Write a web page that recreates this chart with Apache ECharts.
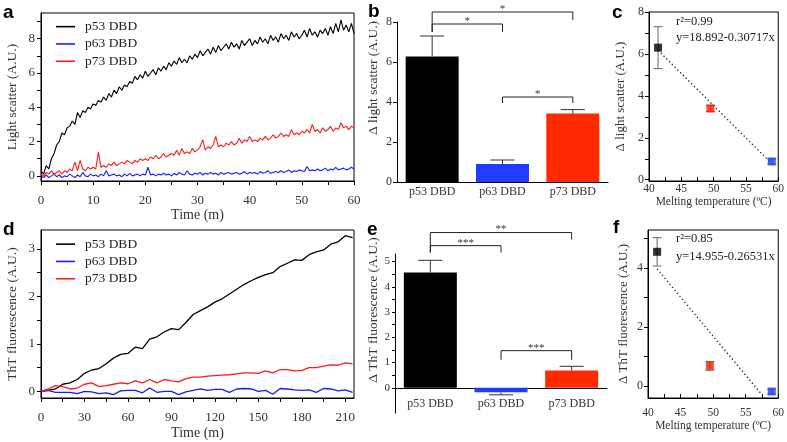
<!DOCTYPE html>
<html>
<head>
<meta charset="utf-8">
<script src="https://cdn.jsdelivr.net/npm/echarts@6/dist/echarts.min.js"></script>
<style>
html,body{margin:0;padding:0;background:#fff;}
#chart{width:787px;height:442px;}
</style>
</head>
<body>
<div id="chart"></div>
<script>
// ---------- DATA ----------
// Panel a: light scatter time courses, sampled every 0.5 min (0..60 min)
const timeStepA = 0.5;
const p53A = [
0.3,0.1,0.6,0.4,1.0,1.3,1.8,2.0,2.5,2.4,
2.8,2.9,3.2,3.0,3.7,3.4,3.8,3.7,4.0,3.9,
4.2,4.1,4.4,4.3,4.6,4.4,4.8,4.6,5.0,4.8,
5.2,5.0,5.3,5.2,5.5,5.4,5.8,5.6,5.9,5.7,
6.1,5.8,6.0,6.2,5.9,6.3,6.1,6.4,6.2,6.6,
6.4,6.7,6.5,6.9,6.6,6.8,6.6,7.0,6.8,7.1,
6.9,7.3,7.0,7.2,7.4,7.1,7.5,7.2,7.6,7.3,
7.5,7.7,7.4,7.8,7.5,7.7,7.4,7.9,7.6,7.8,
8.0,7.6,7.9,7.7,8.1,7.8,8.0,7.7,8.2,7.9,
8.1,7.8,8.3,8.0,8.2,7.9,8.4,8.1,8.3,8.0,
8.2,8.5,8.1,8.6,8.2,8.4,8.1,8.5,8.3,8.6,
8.2,8.7,8.3,8.9,8.4,9.1,8.5,8.8,8.4,8.9,
8.3];
const p63A = [
0.0,-0.1,0.05,-0.1,0.0,0.1,-0.05,0.05,-0.1,0.0,
-0.05,0.1,0.0,-0.1,0.05,-0.05,0.2,0.0,-0.05,0.1,
0.0,0.05,-0.05,0.1,0.0,0.3,0.0,0.05,0.1,0.0,
0.05,-0.05,0.1,0.0,0.15,0.0,0.05,0.1,0.0,0.1,
0.05,0.5,0.05,0.1,0.0,0.1,0.05,0.15,0.05,0.1,
0.0,0.15,0.05,0.2,0.1,0.05,0.3,0.1,0.05,0.15,
0.1,0.2,0.05,0.15,0.1,0.2,0.1,0.15,0.05,0.2,
0.1,0.15,0.2,0.1,0.15,0.2,0.1,0.15,0.25,0.1,
0.2,0.15,0.2,0.1,0.25,0.15,0.2,0.3,0.15,0.2,
0.25,0.2,0.3,0.2,0.25,0.35,0.2,0.3,0.25,0.35,
0.3,0.25,0.55,0.3,0.35,0.3,0.4,0.3,0.35,0.45,
0.3,0.4,0.35,0.5,0.35,0.4,0.45,0.35,0.4,0.5,
0.4];
const p73A = [
0.1,0.0,0.2,0.1,0.3,0.1,0.2,0.3,0.1,0.3,
0.2,0.4,0.3,0.8,0.3,0.9,0.4,0.3,0.5,0.4,
0.5,0.4,1.4,0.5,0.6,0.5,0.7,0.6,0.8,0.6,
0.7,0.8,0.7,0.9,0.8,0.7,0.9,0.8,1.0,0.9,
1.0,0.9,1.1,1.0,1.2,1.0,1.1,1.3,1.1,1.2,
1.3,1.2,1.5,1.2,1.6,1.3,1.4,1.3,1.6,1.4,
1.5,1.7,2.1,1.5,1.7,1.6,1.8,2.3,1.7,1.8,
1.7,1.9,1.8,2.0,1.8,1.9,2.2,1.9,2.1,2.0,
2.3,2.0,2.1,2.0,2.2,2.1,2.3,2.1,2.2,2.4,
2.2,2.3,2.5,2.3,2.4,2.3,2.7,2.4,2.5,2.4,
2.6,2.5,2.7,2.5,3.0,2.6,2.7,2.5,2.8,2.6,
2.7,2.9,2.6,2.8,2.7,3.1,2.8,2.9,2.7,2.9,
2.8];

// Panel d: ThT fluorescence time courses, sampled every 5 min (0..215 min)
const timeStepD = 5;
const p53D = [0,0.02,0.05,0.15,0.18,0.25,0.38,0.45,0.48,0.58,0.7,0.78,0.8,0.93,0.9,1.1,1.15,1.25,1.32,1.3,1.45,1.62,1.7,1.78,1.88,1.95,2.05,2.15,2.25,2.33,2.4,2.46,2.5,2.63,2.7,2.77,2.76,2.88,2.94,2.98,3.1,3.15,3.28,3.24];
const p63D = [0,0.02,-0.02,-0.02,-0.02,-0.05,0,-0.01,-0.05,-0.03,-0.07,0.01,0.02,0.02,-0.03,0.07,-0.02,0,0,-0.07,-0.01,0.02,0.05,0.02,0.04,0.04,-0.02,0.05,0.06,0.05,0,0.02,-0.06,0.06,0.05,0.03,0.02,0.03,-0.02,0.06,0.05,0.01,0.03,-0.02];
const p73D = [0,0.05,0.12,0.1,0.05,0.07,0.15,0.18,0.1,0.12,0.15,0.18,0.16,0.22,0.18,0.25,0.18,0.25,0.22,0.2,0.27,0.3,0.3,0.32,0.33,0.34,0.35,0.37,0.39,0.39,0.38,0.43,0.39,0.46,0.46,0.43,0.44,0.5,0.5,0.53,0.56,0.55,0.6,0.58];

// Panels b / e: bar means and errors
const seriesNames = ['p53 DBD','p63 DBD','p73 DBD'];
const lightMean = [6.28, 0.9, 3.42];
const lightErr  = [1.02, 0.2, 0.2];
const thtMean   = [4.57, -0.18, 0.68];
const thtErr    = [0.48, 0.1, 0.17];

// Panels c / f: melting temperature vs. change
const meltTemp = [41.4, 59.0, 49.5];
const lightPt  = [6.3, 0.87, 3.4];
const lightPtErr = [1.0, 0.12, 0.15];
const thtPt    = [4.55, -0.19, 0.68];
const thtPtErr = [0.48, 0.08, 0.15];
const fitLight = {intercept: 18.892, slope: -0.30717, r2: '0.99'};
const fitTht   = {intercept: 14.955, slope: -0.26531, r2: '0.85'};

// significance annotations [fromIndex, toIndex, stars]
const sigB = [[0,2,'*'],[0,1,'*'],[1,2,'*']];
const sigE = [[0,2,'**'],[0,1,'***'],[1,2,'***']];

// tick values / labels
const ticksAx = [0,5,10,15,20,25,30,35,40,45,50,55,60];
const labelsAx = [0,10,20,30,40,50,60];
const ticksAy = [0,1,2,3,4,5,6,7,8,9];
const labelsAy = [0,2,4,6,8];
const ticksDx = [0,15,30,45,60,75,90,105,120,135,150,165,180,195,210];
const labelsDx = [0,30,60,90,120,150,180,210];
const ticksDy = [0,0.5,1,1.5,2,2.5,3];
const labelsDy = [0,1,2,3];
const ticksTx = [40,42.5,45,47.5,50,52.5,55,57.5,60];
const labelsTx = [40,45,50,55,60];
const ticksCy = [0,1,2,3,4,5,6,7,8];
const labelsCy = [0,2,4,6,8];
const ticksFy = [0,1,2,3,4,5];
const labelsFy = [0,2,4];
const ticksEy = [0,0.5,1,1.5,2,2.5,3,3.5,4,4.5,5];
const labelsEy = [0,1,2,3,4,5];

// ---------- STYLE ----------
const SERIF = '"Liberation Serif","Times New Roman",serif';
const SANS = '"Liberation Sans",Arial,sans-serif';
const lineColors = ['#000000','#1a1aff','#ff1a1a'];
const barColors = ['#000000','#1f3cff','#ff2a00'];
const ptColors = ['#000000','#1f3cff','#ff1a00'];
const tickCol = '#333';

// bracket geometry (value units): [top, leftLegEnd, rightLegEnd]
const bracketB = [[8.5,7.5,8.1],[7.9,7.5,7.5],[4.25,3.95,3.95]];
const bracketE = [[6.15,5.36,5.87],[5.63,5.36,5.36],[1.47,1.11,1.11]];

const chart = echarts.init(document.getElementById('chart'));

function valAxis(grid, min, max, ticks, labels, opts) {
  opts = opts || {};
  return Object.assign({
    type: 'value', gridIndex: grid, min: min, max: max,
    splitLine: {show: false},
    axisLine: {show: true, onZero: false, lineStyle: {color: '#000', width: 1}},
    axisTick: {show: true, inside: !!opts.inside, length: opts.tickLen || 4, customValues: ticks, lineStyle: {color: '#000'}},
    axisLabel: {customValues: labels, color: tickCol, fontFamily: SERIF, fontSize: opts.fs || 13, margin: opts.margin || 6}
  }, opts.extra || {});
}

function errRender(capW, color, both) {
  return function (params, api) {
    const x = api.value(0), y = api.value(1), e = api.value(2);
    const sgn = y < 0 ? -1 : 1;
    const pTop = api.coord([x, y + sgn * e]);
    const pBot = both ? api.coord([x, y - sgn * e]) : api.coord([x, y]);
    const ch = [
      {type: 'line', shape: {x1: pBot[0], y1: pBot[1], x2: pTop[0], y2: pTop[1]}, style: {stroke: color, lineWidth: 1}},
      {type: 'line', shape: {x1: pTop[0] - capW / 2, y1: pTop[1], x2: pTop[0] + capW / 2, y2: pTop[1]}, style: {stroke: color, lineWidth: 1}}
    ];
    if (both) ch.push({type: 'line', shape: {x1: pBot[0] - capW / 2, y1: pBot[1], x2: pBot[0] + capW / 2, y2: pBot[1]}, style: {stroke: color, lineWidth: 1}});
    return {type: 'group', children: ch};
  };
}

function bracketRender(sig, geo) {
  return function (params, api) {
    const i = params.dataIndex;
    const g = geo[i];
    const a = sig[i][0], b = sig[i][1];
    const pl = api.coord([a, g[1]]), plt = api.coord([a, g[0]]);
    const pr = api.coord([b, g[2]]), prt = api.coord([b, g[0]]);
    return {type: 'group', children: [
      {type: 'polyline', shape: {points: [pl, plt, prt, pr]}, style: {stroke: '#222', lineWidth: 1, fill: null}},
      {type: 'text', x: (plt[0] + prt[0]) / 2, y: plt[1] - 3, style: {text: sig[i][2], fill: '#333', font: '11px ' + SERIF, align: 'center', verticalAlign: 'middle'}}
    ]};
  };
}

function seriesXY(arr, step) { return arr.map(function (v, i) { return [i * step, v]; }); }

const lineSeriesA = [p53A, p63A, p73A].map(function (arr, k) {
  return {name: seriesNames[k], type: 'line', xAxisIndex: 0, yAxisIndex: 0, data: seriesXY(arr, timeStepA),
    symbol: 'none', lineStyle: {color: lineColors[k], width: 1.1}, itemStyle: {color: lineColors[k]}, z: k === 0 ? 4 : 3};
});
const lineSeriesD = [p53D, p63D, p73D].map(function (arr, k) {
  return {name: seriesNames[k], type: 'line', xAxisIndex: 3, yAxisIndex: 3, data: seriesXY(arr, timeStepD),
    symbol: 'none', lineStyle: {color: lineColors[k], width: 1.3}, itemStyle: {color: lineColors[k]}};
});

function barData(means) { return means.map(function (v, i) { return {value: v, itemStyle: {color: barColors[i]}}; }); }
function errData(means, errs) { return means.map(function (v, i) { return [i, v, errs[i]]; }); }
function ptData(ys) { return ys.map(function (v, i) { return {value: [meltTemp[i], v], itemStyle: {color: ptColors[i]}}; }); }
function ptErrData(ys, errs) { return ys.map(function (v, i) { return [meltTemp[i], v, errs[i]]; }); }
function fitData(fit) {
  const x0 = Math.min.apply(null, meltTemp), x1 = Math.max.apply(null, meltTemp);
  return [[x0, fit.intercept + fit.slope * x0], [x1, fit.intercept + fit.slope * x1]];
}

const legendCommon = {
  orient: 'vertical', icon: 'rect', itemWidth: 19, itemHeight: 1.6, itemGap: 0, selectedMode: false,
  data: seriesNames,
  textStyle: {fontFamily: SERIF, fontSize: 13.5, color: '#222', lineHeight: 17.3, padding: [0, 0, 0, 5]}
};

const option = {
  animation: false,
  backgroundColor: '#fff',
  legend: [
    Object.assign({left: 51, top: 13}, legendCommon),
    Object.assign({left: 51, top: 230.5}, legendCommon)
  ],
  grid: [
    {left: 41, top: 13, width: 313, height: 168, show: true, borderColor: '#000', borderWidth: 1},
    {left: 397, top: 22, width: 211, height: 160},
    {left: 649, top: 12, width: 130, height: 169, show: true, borderColor: '#000', borderWidth: 1},
    {left: 41, top: 230, width: 313, height: 168, show: true, borderColor: '#000', borderWidth: 1},
    {left: 395, top: 254, width: 212, height: 159},
    {left: 648, top: 230, width: 131, height: 168, show: true, borderColor: '#000', borderWidth: 1}
  ],
  xAxis: [
    valAxis(0, 0, 60, ticksAx, labelsAx, {margin: 13, extra: {name: 'Time (m)', nameLocation: 'middle', nameGap: 26, nameTextStyle: {fontFamily: SERIF, fontSize: 14, color: '#333'}}}),
    {type: 'category', gridIndex: 1, data: seriesNames, axisTick: {show: false},
      axisLine: {show: true, lineStyle: {color: '#000'}},
      axisLabel: {color: tickCol, fontFamily: SERIF, fontSize: 12, margin: 4}},
    valAxis(2, 40, 60, ticksTx, labelsTx, {inside: true, fs: 11.5, margin: 2, extra: {name: 'Melting temperature (ºC)', nameLocation: 'middle', nameGap: 13, nameTextStyle: {fontFamily: SERIF, fontSize: 11.5, color: '#333'}}}),
    valAxis(3, 0, 216, ticksDx, labelsDx, {margin: 13, extra: {name: 'Time (m)', nameLocation: 'middle', nameGap: 28, nameTextStyle: {fontFamily: SERIF, fontSize: 14, color: '#333'}}}),
    {type: 'category', gridIndex: 4, data: seriesNames, axisTick: {show: false},
      axisLine: {show: true, onZero: true, lineStyle: {color: '#000'}},
      axisLabel: {color: tickCol, fontFamily: SERIF, fontSize: 12, margin: -15}},
    valAxis(5, 40, 60, ticksTx, labelsTx, {inside: true, fs: 11.5, margin: 9, extra: {name: 'Melting temperature (ºC)', nameLocation: 'middle', nameGap: 21, nameTextStyle: {fontFamily: SERIF, fontSize: 11.5, color: '#333'}}})
  ],
  yAxis: [
    valAxis(0, -0.3, 9.5, ticksAy, labelsAy, {extra: {name: 'Light scatter (A.U.)', nameLocation: 'middle', nameGap: 22, nameTextStyle: {fontFamily: SERIF, fontSize: 13.5, color: '#333'}}}),
    valAxis(1, 0, 8, labelsAy, labelsAy, {fs: 12, margin: 5}),
    valAxis(2, -0.06, 8, ticksCy, labelsCy, {fs: 12, margin: 5, extra: {name: 'Δ light scatter (A.U.)', nameLocation: 'middle', nameGap: 22, nameTextStyle: {fontFamily: SERIF, fontSize: 13, color: '#333'}}}),
    valAxis(3, -0.14, 3.4, ticksDy, labelsDy, {extra: {name: 'ThT fluorescence (A.U.)', nameLocation: 'middle', nameGap: 22, nameTextStyle: {fontFamily: SERIF, fontSize: 13.5, color: '#333'}}}),
    valAxis(4, -1, 5.3, ticksEy, labelsEy, {fs: 11, margin: 5, tickLen: 3}),
    valAxis(5, -0.41, 5.29, ticksFy, labelsFy, {fs: 12, margin: 5, extra: {name: 'Δ ThT fluorescence (A.U.)', nameLocation: 'middle', nameGap: 18, nameTextStyle: {fontFamily: SERIF, fontSize: 13, color: '#333'}}})
  ],
  series: [].concat(
    lineSeriesA,
    lineSeriesD,
    [
      {name: 'Δ light scatter', type: 'bar', xAxisIndex: 1, yAxisIndex: 1, barWidth: 53, data: barData(lightMean)},
      {type: 'custom', xAxisIndex: 1, yAxisIndex: 1, renderItem: errRender(24, '#333', false), data: errData(lightMean, lightErr), z: 5},
      {type: 'custom', xAxisIndex: 1, yAxisIndex: 1, renderItem: bracketRender(sigB, bracketB), data: sigB.map(function (s) { return [s[0], 0]; }), clip: false, z: 5},

      {name: 'Δ ThT fluorescence', type: 'bar', xAxisIndex: 4, yAxisIndex: 4, barWidth: 53, data: barData(thtMean)},
      {type: 'custom', xAxisIndex: 4, yAxisIndex: 4, renderItem: errRender(24, '#333', false), data: errData(thtMean, thtErr), z: 5},
      {type: 'custom', xAxisIndex: 4, yAxisIndex: 4, renderItem: bracketRender(sigE, bracketE), data: sigE.map(function (s) { return [s[0], 0]; }), clip: false, z: 5},

      {name: 'fit light', type: 'line', xAxisIndex: 2, yAxisIndex: 2, data: fitData(fitLight), symbol: 'none',
        lineStyle: {color: '#222', width: 1.3, type: [1.3, 2.6]}, z: 2},
      {type: 'custom', xAxisIndex: 2, yAxisIndex: 2, renderItem: errRender(9, '#666', true), data: ptErrData(lightPt, lightPtErr), z: 3},
      {name: 'Tm light', type: 'scatter', xAxisIndex: 2, yAxisIndex: 2, symbol: 'rect', symbolSize: 8, data: ptData(lightPt), z: 4},

      {name: 'fit ThT', type: 'line', xAxisIndex: 5, yAxisIndex: 5, data: fitData(fitTht), symbol: 'none',
        lineStyle: {color: '#222', width: 1.3, type: [1.3, 2.6]}, z: 2},
      {type: 'custom', xAxisIndex: 5, yAxisIndex: 5, renderItem: errRender(9, '#666', true), data: ptErrData(thtPt, thtPtErr), z: 3},
      {name: 'Tm ThT', type: 'scatter', xAxisIndex: 5, yAxisIndex: 5, symbol: 'rect', symbolSize: 8, data: ptData(thtPt), z: 4}
    ]
  ),
  graphic: [
    {type: 'text', x: 3, y: 3, style: {text: 'a', font: 'bold 19px ' + SANS, fill: '#000', verticalAlign: 'top'}},
    {type: 'text', x: 368, y: 2, style: {text: 'b', font: 'bold 19px ' + SANS, fill: '#000', verticalAlign: 'top'}},
    {type: 'text', x: 612, y: 3, style: {text: 'c', font: 'bold 19px ' + SANS, fill: '#000', verticalAlign: 'top'}},
    {type: 'text', x: 3, y: 220, style: {text: 'd', font: 'bold 19px ' + SANS, fill: '#000', verticalAlign: 'top'}},
    {type: 'text', x: 367, y: 220, style: {text: 'e', font: 'bold 19px ' + SANS, fill: '#000', verticalAlign: 'top'}},
    {type: 'text', x: 613, y: 218, style: {text: 'f', font: 'bold 19px ' + SANS, fill: '#000', verticalAlign: 'top'}},
    {type: 'text', x: 373, y: 78, rotation: Math.PI / 2, style: {text: 'Δ light scatter (A.U.)', font: '13.5px ' + SERIF, fill: '#333', align: 'center', verticalAlign: 'middle'}},
    {type: 'text', x: 373, y: 310, rotation: Math.PI / 2, style: {text: 'Δ ThT fluorescence (A.U.)', font: '13.5px ' + SERIF, fill: '#333', align: 'center', verticalAlign: 'middle'}},
    {type: 'text', x: 676, y: 22, style: {text: 'r²=' + fitLight.r2, font: '12.5px ' + SERIF, fill: '#222', verticalAlign: 'middle'}},
    {type: 'text', x: 676, y: 38, style: {text: 'y=' + fitLight.intercept + (fitLight.slope < 0 ? '-' : '+') + Math.abs(fitLight.slope) + 'x', font: '12.5px ' + SERIF, fill: '#222', verticalAlign: 'middle'}},
    {type: 'text', x: 676, y: 239, style: {text: 'r²=' + fitTht.r2, font: '12.5px ' + SERIF, fill: '#222', verticalAlign: 'middle'}},
    {type: 'text', x: 676, y: 257, style: {text: 'y=' + fitTht.intercept + (fitTht.slope < 0 ? '-' : '+') + Math.abs(fitTht.slope) + 'x', font: '12.5px ' + SERIF, fill: '#222', verticalAlign: 'middle'}}
  ]
};
chart.setOption(option);
</script>
</body>
</html>
